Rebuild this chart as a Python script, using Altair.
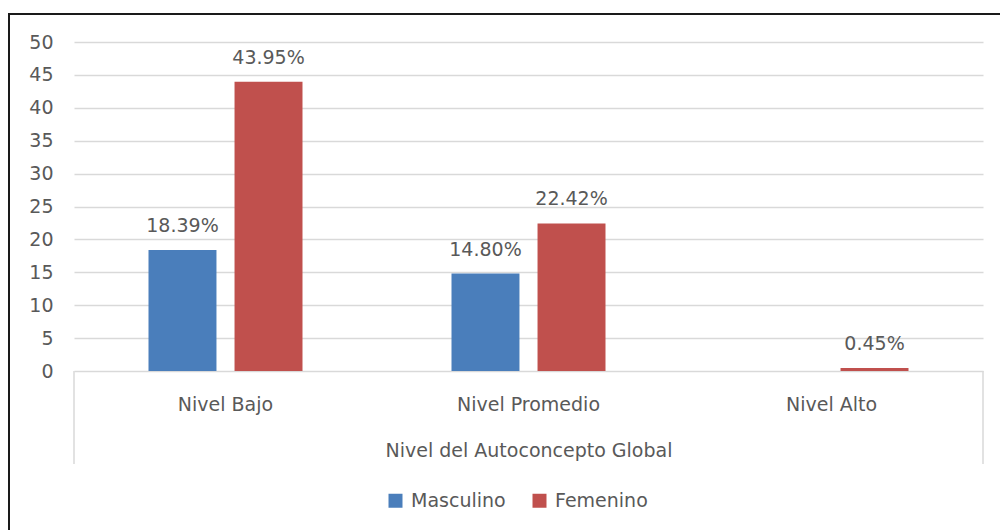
import altair as alt
import pandas as pd

categories = ["Nivel Bajo", "Nivel Promedio", "Nivel Alto"]
series = ["Masculino", "Femenino"]
masculino = [18.39, 14.80, 0.0]
femenino = [43.95, 22.42, 0.45]
colors = ["#4a7ebb", "#c0504d"]
y_ticks = list(range(0, 51, 5))

rows = []
for c, m, f in zip(categories, masculino, femenino):
    rows.append({"nivel": c, "sexo": "Masculino", "valor": m})
    rows.append({"nivel": c, "sexo": "Femenino", "valor": f})
df = pd.DataFrame(rows)

W, H = 909, 329
FONT = "DejaVu Sans"
GRAY = "#595959"
GRID = "#d9d9d9"
FS = 19

x_enc = alt.X(
    "nivel:N", sort=categories,
    scale=alt.Scale(paddingInner=0, paddingOuter=0),
    axis=alt.Axis(
        title="Nivel del Autoconcepto Global", labelAngle=0, ticks=False, tickSize=0,
        domain=False, labelPadding=39, labelBaseline="alphabetic",
        labelFontSize=FS, labelColor=GRAY, labelFont=FONT,
        titleFont=FONT, titleFontSize=FS, titleColor=GRAY, titleFontWeight="normal",
        titleBaseline="alphabetic", titleY=85, grid=False,
    ),
)
xo_enc = alt.XOffset(
    "sexo:N", sort=series,
    scale=alt.Scale(domain=series, paddingInner=0.21, paddingOuter=0.866),
)
y_enc = alt.Y(
    "valor:Q",
    scale=alt.Scale(domain=[0, 50], nice=False),
    axis=alt.Axis(
        values=y_ticks, title=None, domain=False, ticks=False, labelPadding=21,
        labelFontSize=FS, labelFont=FONT, labelColor=GRAY,
        gridColor=GRID, gridWidth=1.5,
    ),
)
color_enc = alt.Color(
    "sexo:N", sort=series,
    scale=alt.Scale(domain=series, range=colors),
    legend=alt.Legend(
        title=None, orient="none", legendX=312, legendY=449, direction="horizontal",
        symbolType="square", symbolSize=196, symbolStrokeWidth=0, symbolOpacity=1,
        labelFontSize=FS, labelFont=FONT, labelColor=GRAY, labelOffset=6,
        columnPadding=24, padding=0,
    ),
)

bars = alt.Chart(df).mark_bar().encode(x=x_enc, xOffset=xo_enc, y=y_enc, color=color_enc)

labels = (
    alt.Chart(df)
    .transform_filter("datum.valor > 0")
    .transform_calculate(label="format(datum.valor, '.2f') + '%'")
    .mark_text(baseline="alphabetic", dy=-18, font=FONT, fontSize=FS, color=GRAY)
    .encode(x=x_enc, xOffset=xo_enc, y=y_enc, text="label:N")
)

deco = pd.DataFrame({"k": [0]})
left_line = alt.Chart(deco).mark_rule(color=GRID, strokeWidth=1.5).encode(
    x=alt.value(0), y=alt.value(H), y2=alt.value(H + 93))
right_line = alt.Chart(deco).mark_rule(color=GRID, strokeWidth=1.5).encode(
    x=alt.value(W), y=alt.value(H), y2=alt.value(H + 93))
border = alt.Chart(deco).mark_rect(filled=False, stroke="#1a1a1a", strokeWidth=2).encode(
    x=alt.value(-65), y=alt.value(-28), x2=alt.value(W + 200), y2=alt.value(H + 300))

chart = (
    alt.layer(left_line, right_line, bars, labels, border)
    .properties(
        width=W, height=H,
        autosize=alt.AutoSizeParams(type="none"),
        padding={"left": 74, "top": 42, "right": 17, "bottom": 159},
        background="white",
    )
    .configure_view(stroke=None)
)

chart.save("out.html", embed_options={"renderer": "svg", "actions": False})
